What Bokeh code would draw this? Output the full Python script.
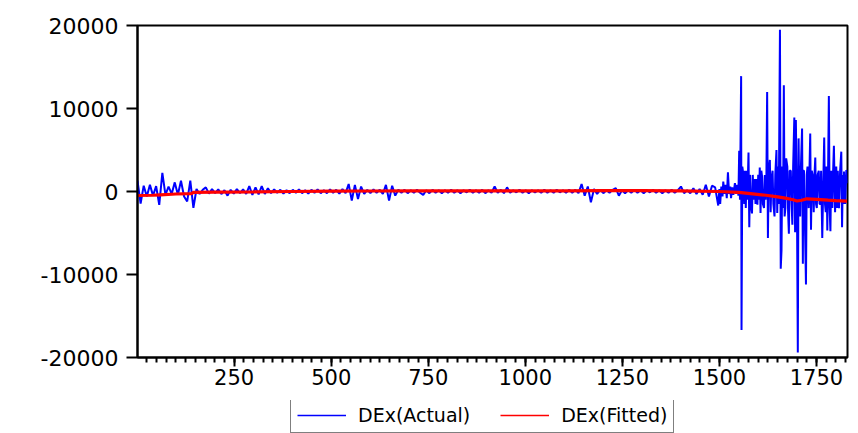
from bokeh.plotting import figure
from bokeh.layouts import column
from bokeh.models import Range1d, FixedTicker, Legend, LegendItem
from bokeh.embed import file_html
from bokeh.resources import INLINE

# ---- data ----
# calm part of DEx(Actual): observations 1, 9, 17, ... (every 8th) up to 1497
CALM_OBS = list(range(1, 1498, 8))
CALM_VAL = [
    1300, -1450, 700, -600, 800, -500, 650, -1600, 2250, -400,
    600, -300, 1100, -400, 1300, -600, -1200, 1300, -1960, 300,
    -300, 200, 500, -250, 300, -200, 250, -300, 150, -500,
    200, -250, 300, -200, 250, -300, 640, -400, 500, -350,
    640, -300, 400, -200, 250, -150, 200, -250, 150, -200,
    200, -150, 250, -200, 150, -250, 200, -150, 250, -200,
    150, -200, 250, -150, 200, -250, 300, -200, 900, -1090,
    800, -900, 600, -300, 200, -200, 250, -150, 200, -300,
    800, -1090, 700, -500, 200, -150, 200, -200, 150, -150,
    200, -150, -400, 150, -200, 200, -150, 150, -200, 150,
    -150, 200, -150, 150, -200, 150, -100, 200, -150, 150,
    -150, 200, -200, 150, -150, 600, -150, 200, -200, 500,
    -150, 150, -100, 200, -150, 150, -200, 150, -100, 150,
    -150, 200, -150, 150, -150, 200, -100, 150, -150, 200,
    -150, 200, -200, 900, -500, 600, -1300, 300, -300, 200,
    -200, 150, -150, 200, 400, -500, 150, -200, 150, -150,
    200, -150, 150, -200, 150, -100, 200, -150, 150, -200,
    150, -150, 200, -150, 150, 600, -200, 150, -200, 400,
    -300, 300, -400, 800, -600, 700, 500, -1690,
]
# volatile part of DEx(Actual)
VOL_OBS = [
    1500, 1502, 1505, 1508, 1510, 1513, 1516, 1519, 1522, 1525, 1528, 1530,
    1533, 1536, 1540, 1543, 1546, 1549, 1551, 1553, 1556, 1557, 1559, 1562,
    1564, 1566, 1568, 1570, 1572, 1575, 1577, 1579, 1581, 1584, 1586, 1588,
    1591, 1593, 1595, 1598, 1600, 1602, 1604, 1606, 1608, 1610, 1612, 1615,
    1617, 1619, 1621, 1623, 1625, 1627, 1630, 1632, 1634, 1637, 1639, 1642,
    1644, 1647, 1649, 1651, 1653, 1656, 1658, 1660, 1662, 1664, 1666, 1668,
    1670, 1672, 1675, 1677, 1679, 1681, 1684, 1686, 1688, 1690, 1693, 1695,
    1697, 1700, 1702, 1704, 1706, 1708, 1710, 1713, 1715, 1716, 1718, 1720,
    1723, 1725, 1727, 1730, 1732, 1734, 1736, 1738, 1740, 1743, 1745, 1747,
    1749, 1751, 1753, 1756, 1758, 1760, 1762, 1765, 1768, 1770, 1772, 1774,
    1776, 1778, 1780, 1782, 1784, 1786, 1788, 1789, 1791, 1793, 1795, 1798,
    1801, 1803, 1805, 1808, 1811, 1814, 1816, 1818, 1820, 1821, 1824, 1827,
    1829,
]
VOL_VAL = [
    300, -1500, 600, -600, 1200, -300, 800, -800, 2300, -300, 600, -800,
    500, -400, 1000, -300, 800, -500, 4900, -1000, 13900, -16700, 3000, 2000,
    -1500, 2500, -2000, 2500, -1000, 4700, -4300, 2000, -1500, -2650, 2000, -1000,
    1500, -1500, 1500, -1600, 2000, -1000, 2900, -2600, 2500, 1800, -1500, -2000,
    2000, -1000, 1500, 12000, -5600, 2500, 3800, -2500, 1500, 2500, -1500, -3000,
    2000, 5000, -2600, 3000, -1500, 19500, -9300, -7100, 3000, -2000, 12800, -3000,
    -2000, 4000, 3000, -2500, -5100, 2500, 2500, -1500, -4000, 3000, 8900, -4900,
    8600, -3000, -19400, 6400, -2000, -3000, 3000, 7600, -8700, 2500, 2500, -3000,
    -11200, 2000, 3000, -2000, 2500, 7000, -4600, 2500, 2000, -2500, 2000, 4100,
    -1500, -2000, 2000, 2500, -1500, -1500, 2500, -5600, 2000, 6500, -1500, -2500,
    3000, -4700, 2500, 11500, -2000, -4800, 2500, 2000, -2000, 2500, 5500, -2500,
    3000, -2000, 2500, -2000, 2500, 4800, -4300, 2000, -1500, 2400, -1500, 2600,
    1000,
]
# DEx(Fitted)
FIT_OBS = [1, 40, 60, 100, 140, 145, 200, 300, 400, 500, 600, 700, 800, 900,
           1000, 1100, 1200, 1300, 1400, 1500, 1550, 1580, 1620, 1650, 1670,
           1690, 1700, 1712, 1725, 1750, 1780, 1800, 1829]
FIT_VAL = [-480, -450, -400, -300, -250, -100, -80, -50, 0, 50, 60, 80, 80, 80,
           80, 80, 100, 100, 80, 0, -100, -250, -450, -650, -800,
           -1000, -1150, -1050, -880, -950, -1050, -1100, -1170]

X_TICKS = [250, 500, 750, 1000, 1250, 1500, 1750]
Y_TICKS = [-20000, -10000, 0, 10000, 20000]
Y_TICK_LABELS = ["-20000", "-10000", "0", "10000", "20000"]
SERIES_NAMES = ["DEx(Actual)", "DEx(Fitted)"]

ACT_OBS = CALM_OBS + VOL_OBS
ACT_VAL = CALM_VAL + VOL_VAL

FONT = "DejaVu Sans"
BLUE, RED = "#0000ff", "#ff0000"

p = figure(frame_width=710, frame_height=332, output_backend="svg",
           toolbar_location=None,
           x_range=Range1d(1, 1830), y_range=Range1d(-20000, 20000),
           min_border_top=25, min_border_left=137, min_border_right=3,
           min_border_bottom=43)
p.xgrid.visible = False
p.ygrid.visible = False
p.outline_line_color = "black"
p.outline_line_width = 2
p.background_fill_color = "white"
p.border_fill_color = "white"

p.line(ACT_OBS, ACT_VAL, line_color=BLUE, line_width=2)
p.line(FIT_OBS, FIT_VAL, line_color=RED, line_width=3.2)

xa = p.xaxis[0]
xa.ticker = FixedTicker(ticks=X_TICKS, minor_ticks=list(range(25, 1830, 25)))
xa.major_tick_out = 9
xa.major_tick_in = 0
xa.minor_tick_out = 5
xa.minor_tick_in = 0
xa.axis_line_width = 2
xa.major_tick_line_width = 2
xa.minor_tick_line_width = 2
xa.major_label_standoff = 2
xa.major_label_text_font = FONT
xa.major_label_text_font_size = "21px"
xa.major_label_text_color = "black"

ya = p.yaxis[0]
ya.ticker = FixedTicker(ticks=Y_TICKS, minor_ticks=[])
ya.major_label_overrides = {t: s for t, s in zip(Y_TICKS, Y_TICK_LABELS)}
ya.major_tick_out = 11
ya.major_tick_in = 0
ya.axis_line_width = 2
ya.major_tick_line_width = 2
ya.major_label_standoff = 8
ya.major_label_text_font = FONT
ya.major_label_text_font_size = "22px"
ya.major_label_text_color = "black"

# legend strip below the chart (its sample lines lie outside the strip's ranges)
lf = figure(width=850, height=33, output_backend="svg", toolbar_location=None,
            x_range=Range1d(0, 1), y_range=Range1d(0, 1),
            x_axis_location=None, y_axis_location=None,
            min_border=0, outline_line_color=None)
lf.xgrid.visible = False
lf.ygrid.visible = False
l_act = lf.line([5, 6], [5, 6], line_color=BLUE, line_width=1.5)
l_fit = lf.line([5, 6], [5, 6], line_color=RED, line_width=1.5)
legend = Legend(items=[LegendItem(label=SERIES_NAMES[0], renderers=[l_act]),
                       LegendItem(label=SERIES_NAMES[1], renderers=[l_fit])],
                orientation="horizontal", location=(153, 0),
                label_text_font=FONT, label_text_font_size="19px",
                label_text_color="black",
                glyph_width=49, glyph_height=16, label_standoff=12, spacing=30,
                padding=6, margin=0, border_line_color="black",
                border_line_width=1, label_height=16)
lf.add_layout(legend, "center")

layout = column(p, lf, spacing=0)
open("out.html", "w").write(file_html(layout, INLINE))
